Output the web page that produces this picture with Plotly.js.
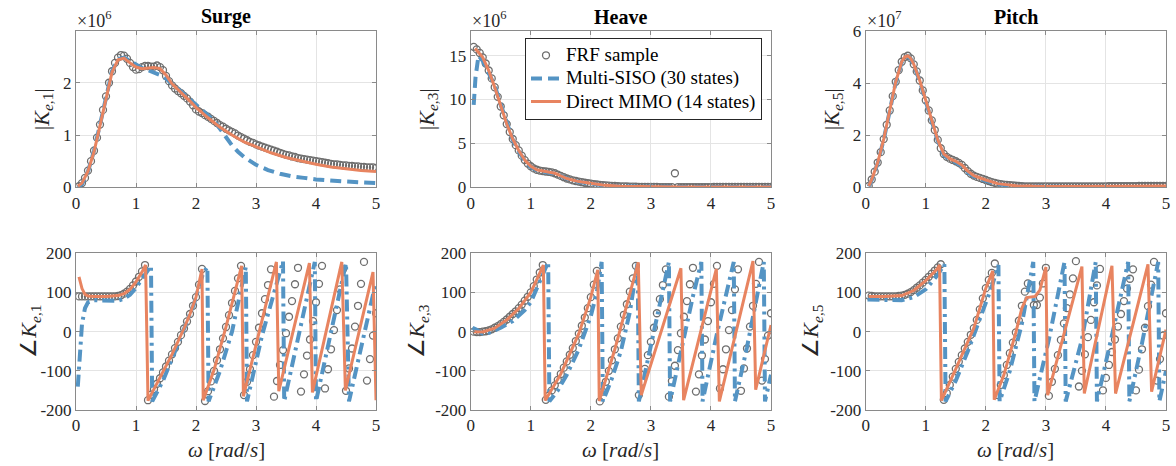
<!DOCTYPE html>
<html><head><meta charset="utf-8">
<script src="https://cdn.plot.ly/plotly-3.0.1.min.js"></script>
<style>body{margin:0;background:#fff}#chart{width:1176px;height:466px}</style>
</head><body><div id="chart"></div>
<script>
// FRF sample frequencies (rad/s)
const omega = [0.05,0.10,0.15,0.20,0.25,0.30,0.35,0.40,0.45,0.50,
 0.55,0.60,0.65,0.70,0.75,0.80,0.85,0.90,0.95,1.00,
 1.05,1.10,1.15,1.20,1.25,1.30,1.35,1.40,1.45,1.50,
 1.55,1.60,1.65,1.70,1.75,1.80,1.85,1.90,1.95,2.00,
 2.05,2.10,2.15,2.20,2.25,2.30,2.35,2.40,2.45,2.50,
 2.55,2.60,2.65,2.70,2.75,2.80,2.85,2.90,2.95,3.00,
 3.05,3.10,3.15,3.20,3.25,3.30,3.35,3.40,3.45,3.50,
 3.55,3.60,3.65,3.70,3.75,3.80,3.85,3.90,3.95,4.00,
 4.05,4.10,4.15,4.20,4.25,4.30,4.35,4.40,4.45,4.50,
 4.55,4.60,4.65,4.70,4.75,4.80,4.85,4.90,4.95,5.00];

// ---- FRF samples: magnitude (surge, heave x1e6; pitch x1e7) ----
const surgeMagFRF = [0.02,0.08,0.18,0.32,0.50,0.70,0.95,1.20,1.48,1.74,
 2.00,2.22,2.38,2.48,2.53,2.52,2.46,2.38,2.30,2.25,
 2.26,2.30,2.32,2.32,2.31,2.31,2.33,2.30,2.24,2.13,
 2.03,1.95,1.89,1.84,1.80,1.75,1.70,1.64,1.57,1.49,
 1.45,1.42,1.38,1.35,1.31,1.27,1.23,1.19,1.16,1.12,
 1.09,1.06,1.03,0.99,0.96,0.93,0.90,0.87,0.85,0.82,
 0.80,0.78,0.76,0.74,0.72,0.70,0.68,0.66,0.64,0.62,
 0.61,0.59,0.58,0.56,0.55,0.54,0.53,0.52,0.51,0.50,
 0.49,0.48,0.47,0.46,0.45,0.44,0.44,0.43,0.42,0.42,
 0.41,0.41,0.40,0.40,0.39,0.39,0.38,0.38,0.38,0.37];
const heaveMagFRF = [16.0,15.7,15.3,14.8,14.1,13.3,12.4,11.4,10.3,9.2,
 8.2,7.2,6.3,5.5,4.8,4.2,3.6,3.1,2.7,2.4,
 2.15,2.0,1.9,1.85,1.8,1.75,1.7,1.6,1.45,1.3,
 1.15,1.0,0.9,0.8,0.72,0.65,0.58,0.52,0.46,0.41,
 0.36,0.32,0.28,0.25,0.22,0.19,0.17,0.15,0.13,0.11,
 0.10,0.09,0.08,0.07,0.06,0.05,0.05,0.04,0.04,0.04,
 0.04,0.04,0.03,0.03,0.03,0.03,0.03,1.6,0.03,0.03,
 0.03,0.03,0.03,0.03,0.03,0.03,0.03,0.03,0.03,0.03,
 0.04,0.04,0.04,0.04,0.04,0.04,0.04,0.04,0.04,0.04,
 0.04,0.04,0.04,0.04,0.04,0.04,0.04,0.04,0.04,0.04];
const pitchMagFRF = [0.05,0.3,0.6,0.95,1.35,1.85,2.4,2.95,3.5,4.05,
 4.5,4.82,5.0,5.05,4.95,4.72,4.45,4.1,3.72,3.34,
 2.95,2.57,2.2,1.82,1.5,1.28,1.17,1.1,1.05,1.0,
 0.94,0.86,0.74,0.62,0.52,0.45,0.4,0.36,0.32,0.28,
 0.24,0.2,0.17,0.14,0.12,0.1,0.09,0.08,0.07,0.06,
 0.05,0.04,0.03,0.03,0.03,0.03,0.03,0.03,0.03,0.03,
 0.03,0.03,0.03,0.03,0.03,0.03,0.03,0.03,0.03,0.03,
 0.03,0.03,0.03,0.03,0.03,0.03,0.03,0.03,0.03,0.03,
 0.04,0.04,0.04,0.04,0.04,0.04,0.04,0.04,0.04,0.04,
 0.05,0.05,0.05,0.05,0.05,0.05,0.05,0.05,0.05,0.05];

// ---- FRF samples: phase (deg) ----
const surgePhFRF = [90,90,90,90,90,90,90,90,90,90,
 90,90,90,91,93,97,102,109,118,128,
 140,154,170,-175,-161,-147,-133,-119,-104,-89,
 -74,-58,-42,-26,-9,8,26,45,66,88,
 120,160,-177,-152,-127,-100,-73,-45,-17,12,
 42,73,104,136,168,-162,-128,-96,-60,-26,
 10,47,83,119,159,-166,-126,-85,-47,-4,
 38,78,121,163,-153,-109,-61,-20,27,75,
 122,168,-145,-96,-45,4,55,108,159,-151,
 -94,-43,13,66,122,178,-125,-70,-10,47];
const heavePhFRF = [0,-1,-1,0,1,3,6,10,14,19,
 25,31,38,45,52,60,69,79,89,100,
 116,133,151,170,-174,-163,-150,-137,-123,-108,
 -92,-76,-59,-42,-24,-5,15,36,60,88,
 120,155,-178,-153,-128,-100,-73,-45,-17,13,
 43,70,102,136,168,-162,-128,-95,-60,-26,
 10,47,83,119,159,-166,-126,-87,-47,-4,
 38,78,121,163,-153,-109,-61,-20,27,75,
 122,168,-145,-96,-45,4,55,108,159,-151,
 -94,-43,13,66,122,178,-125,-70,-10,47];
const pitchPhFRF = [92,91,90,90,90,90,90,90,90,90,
 91,92,94,97,101,106,112,118,125,132,
 140,148,156,164,172,-174,-157,-136,-115,-95,
 -77,-60,-43,-26,-8,9,30,57,85,111,
 132,150,174,-162,-136,-111,-85,-55,-28,-2,
 28,66,102,123,112,68,68,87,123,163,
 -164,-128,-95,-60,-21,21,60,95,136,180,
 -140,-100,-58,-14,30,75,118,160,-150,-118,
 -85,-52,-20,13,45,78,110,135,159,-150,
 -97,-45,10,65,120,178,-125,-70,-10,47];

// ---- Multi-SISO (30 states) & Direct MIMO (14 states) fits ----
const surgeMagSisoW = [0.03,0.1,0.2,0.3,0.4,0.5,0.6,0.7,0.8,0.9,1.0,1.1,1.2,1.3,1.4,1.5,1.6,1.7,1.8,1.9,2.0,2.1,2.2,2.3,2.4,2.5,2.6,2.7,2.8,3.0,3.2,3.4,3.6,3.8,4.0,4.5,5.0];
const surgeMagSiso = [0.0,0.06,0.3,0.7,1.2,1.75,2.22,2.45,2.48,2.42,2.35,2.28,2.24,2.2,2.15,2.08,1.98,1.88,1.78,1.68,1.58,1.49,1.40,1.28,1.12,0.95,0.80,0.68,0.58,0.43,0.33,0.26,0.21,0.18,0.15,0.11,0.08];
const surgeMagMimoW = [0.03,0.1,0.2,0.3,0.4,0.5,0.6,0.7,0.8,0.9,1.0,1.1,1.2,1.3,1.4,1.5,1.6,1.7,1.8,1.9,2.0,2.2,2.4,2.6,2.8,3.0,3.25,3.5,3.75,4.0,4.25,4.5,4.75,5.0];
const surgeMagMimo = [0.02,0.08,0.31,0.68,1.18,1.72,2.2,2.44,2.47,2.38,2.30,2.27,2.28,2.29,2.27,2.15,1.98,1.87,1.77,1.65,1.53,1.33,1.15,1.0,0.87,0.77,0.66,0.57,0.5,0.44,0.39,0.35,0.32,0.30];

const heaveMagSisoW = [0.05,0.08,0.13,0.2,0.3,0.4,0.5,0.6,0.7,0.8,0.9,1.0,1.1,1.2,1.3,1.4,1.5,1.6,1.8,2.0,2.2,2.5,3.0,3.5,4.0,4.5,5.0];
const heaveMagSiso = [9.4,12.5,15.0,14.4,13.0,11.6,9.4,7.3,5.4,4.1,3.0,2.3,1.95,1.8,1.7,1.55,1.3,1.0,0.62,0.38,0.22,0.09,0.03,0.02,0.02,0.02,0.02];
const heaveMagMimoW = [0.07,0.1,0.2,0.3,0.4,0.5,0.6,0.7,0.8,0.9,1.0,1.1,1.2,1.3,1.4,1.5,1.6,1.8,2.0,2.2,2.5,3.0,3.5,4.0,4.5,5.0];
const heaveMagMimo = [15.8,15.6,14.8,13.3,11.4,9.2,7.2,5.5,4.2,3.1,2.4,2.0,1.85,1.75,1.6,1.3,1.0,0.65,0.41,0.25,0.11,0.04,0.03,0.03,0.03,0.03];

const pitchMagW = [0.05,0.1,0.2,0.3,0.4,0.5,0.6,0.65,0.7,0.75,0.8,0.9,1.0,1.1,1.2,1.3,1.4,1.5,1.6,1.7,1.8,2.0,2.2,2.5,3.0,3.5,4.0,4.5,5.0];
const pitchMagSiso = [0.03,0.28,0.93,1.83,2.93,4.03,4.8,4.98,5.03,4.93,4.7,4.08,3.3,2.52,1.78,1.24,1.06,0.96,0.82,0.58,0.42,0.25,0.12,0.04,0.01,0.01,0.01,0.01,0.01];
const pitchMagMimo = [0.05,0.3,0.95,1.85,2.95,4.05,4.82,5.0,5.05,4.95,4.72,4.1,3.34,2.57,1.82,1.28,1.1,1.0,0.86,0.62,0.45,0.28,0.14,0.06,0.03,0.03,0.03,0.04,0.05];

const surgePhSisoW = [0.03,0.06,0.1,0.15,0.2,0.3,0.5,0.7,0.8,0.9,1.0,1.1,1.2,1.25,1.27,1.45,1.62,1.79,1.96,2.12,2.19,2.21,2.4,2.6,2.83,2.85,3.1,3.45,3.47,3.98,4.0,4.5,4.55,5.0];
const surgePhSiso = [-140,-60,20,60,75,80,80,79,84,94,112,135,160,168,-178,-125,-62,0,68,150,165,-178,-100,0,165,-178,-10,180,-178,178,-178,175,-178,128];
const surgePhMimoW = [0.05,0.1,0.15,0.2,0.3,0.5,0.7,0.8,0.9,1.0,1.1,1.16,1.2,1.4,1.6,1.8,1.9,2.0,2.1,2.12,2.3,2.5,2.7,2.76,2.79,3.34,3.38,3.89,3.94,4.43,4.49,4.95,5.0];
const surgePhMimo = [140,110,95,91,90,90,92,97,108,127,152,170,-176,-118,-58,8,45,88,160,-175,-98,12,137,168,-165,178,-152,175,-155,178,-150,152,-175];

const heavePhSisoW = [0.03,0.1,0.2,0.3,0.5,0.7,0.9,1.0,1.1,1.2,1.29,1.31,1.45,1.6,1.8,2.0,2.1,2.18,2.2,2.35,2.5,2.65,2.78,2.8,3.0,3.15,3.3,3.32,3.5,3.7,3.84,3.86,4.1,4.38,4.4,4.6,4.88,4.9,5.0];
const heavePhSiso = [10,5,-5,-3,10,27,55,75,110,145,178,-178,-150,-110,-45,40,100,178,-178,-120,-50,50,178,-178,-40,70,178,-178,-50,90,178,-178,-5,178,-178,-40,178,-178,-110];
const heavePhMimoW = [0.05,0.2,0.4,0.6,0.8,1.0,1.1,1.21,1.24,1.5,1.8,2.0,2.116,2.14,2.4,2.6,2.79,2.84,3.5,3.545,4.09,4.14,4.7,4.745,5.0];
const heavePhMimo = [0,-1,9,30,59,100,133,170,-176,-108,-5,88,158,-177,-45,70,177,-162,162,-175,160,-178,180,-148,17];

const pitchPhSisoW = [0.03,0.3,0.6,0.8,1.0,1.2,1.31,1.33,1.5,1.7,1.9,2.1,2.21,2.23,2.4,2.6,2.79,2.81,3.05,3.31,3.33,3.6,3.83,3.85,4.1,4.37,4.39,4.6,4.87,4.89,5.0];
const pitchPhSiso = [82,82,80,88,108,145,172,-178,-125,-50,30,115,170,-178,-100,20,178,-178,-20,178,-178,-20,178,-178,-10,178,-178,-30,178,-178,-100];
const pitchPhMimoW = [0.05,0.3,0.6,0.8,1.0,1.2,1.23,1.26,1.5,1.8,2.0,2.116,2.14,2.3,2.5,2.6,2.68,2.82,2.9,3.0,3.03,3.6,3.64,4.1,4.16,4.7,4.76,5.0];
const pitchPhMimo = [90,90,92,105,130,162,170,-176,-95,9,111,155,-174,-111,-2,60,87,90,106,165,-162,166,-158,168,-158,172,-153,5];

// ---- labels ----
const dofTitles = ['Surge','Heave','Pitch'];
const magLabels = ['|<i>K</i><sub><i>e</i>,1</sub>|','|<i>K</i><sub><i>e</i>,3</sub>|','|<i>K</i><sub><i>e</i>,5</sub>|'];
const phLabels = ['∠<i>K</i><sub><i>e</i>,1</sub>','∠<i>K</i><sub><i>e</i>,3</sub>','∠<i>K</i><sub><i>e</i>,5</sub>'];
const expLabels = ['×10<sup>6</sup>','×10<sup>6</sup>','×10<sup>7</sup>'];
const seriesNames = ['FRF sample','Multi-SISO (30 states)','Direct MIMO (14 states)'];
const xTicks = [0,1,2,3,4,5];
const magTicks = [[0,1,2],[0,5,10,15],[0,2,4,6]];
const magRanges = [[0,2.99],[0,17.8],[0,6]];
const phTicks = [-200,-100,0,100,200];

// ---- style ----
const FONT = 'Liberation Serif';
const BLUE = 'rgb(84,148,196)';
const ORANGE = 'rgb(232,132,96)';
const GRAY = 'rgb(110,110,110)';
const W = 1176, H = 466;
const colPx = [[76,376],[470.7,771],[865.7,1166]];
const topRowPx = [31,187.3], botRowPx = [253.3,410];
const px2x = p => p / W, py2y = p => 1 - p / H;
const legendName = s => '<span style="font-size:19px">' + s + '</span>';

const traces = [];
function addPanel(idx, fx, fy, sx, sy, mx, my, isMag, legend) {
  const xa = idx === 1 ? 'x' : 'x' + idx, ya = idx === 1 ? 'y' : 'y' + idx;
  traces.push({type:'scatter', mode:'markers', x:fx, y:fy, xaxis:xa, yaxis:ya,
    name:legendName(seriesNames[0]), showlegend:legend, legendgroup:'a',
    marker:{symbol:'circle-open', size:7, color:GRAY, line:{width:1.3, color:GRAY}}});
  traces.push({type:'scatter', mode:'lines', x:sx, y:sy, xaxis:xa, yaxis:ya,
    name:legendName(seriesNames[1]), showlegend:legend, legendgroup:'b',
    line:{color:BLUE, width:4, dash: isMag ? '11px,6px' : '12px,5px,3px,5px'}});
  traces.push({type:'scatter', mode:'lines', x:mx, y:my, xaxis:xa, yaxis:ya,
    name:legendName(seriesNames[2]), showlegend:legend, legendgroup:'c',
    line:{color:ORANGE, width:3}});
}
addPanel(1, omega, surgeMagFRF, surgeMagSisoW, surgeMagSiso, surgeMagMimoW, surgeMagMimo, true, false);
addPanel(2, omega, heaveMagFRF, heaveMagSisoW, heaveMagSiso, heaveMagMimoW, heaveMagMimo, true, true);
addPanel(3, omega, pitchMagFRF, pitchMagW, pitchMagSiso, pitchMagW, pitchMagMimo, true, false);
addPanel(4, omega, surgePhFRF, surgePhSisoW, surgePhSiso, surgePhMimoW, surgePhMimo, false, false);
addPanel(5, omega, heavePhFRF, heavePhSisoW, heavePhSiso, heavePhMimoW, heavePhMimo, false, false);
addPanel(6, omega, pitchPhFRF, pitchPhSisoW, pitchPhSiso, pitchPhMimoW, pitchPhMimo, false, false);

const layout = {
  width: W, height: H, margin:{l:0,r:0,t:0,b:0},
  paper_bgcolor:'#fff', plot_bgcolor:'#fff',
  font:{family:FONT, size:17, color:'#262626'},
  showlegend:true,
  legend:{x:px2x(525), y:py2y(37.7), xanchor:'left', yanchor:'top',
    bgcolor:'#fff', bordercolor:'#262626', borderwidth:1,
    font:{family:FONT, size:15.5, color:'#000'}, tracegroupgap:0, itemwidth:30},
  annotations: []
};
const axBase = {showgrid:true, gridcolor:'#e4e4e4', gridwidth:1, zeroline:false,
  showline:true, linecolor:'#8a8a8a', linewidth:1, mirror:'ticks',
  ticks:'inside', ticklen:4, tickcolor:'#8a8a8a',
  tickfont:{family:FONT, size:17, color:'#262626'}, fixedrange:true};
for (let i = 0; i < 6; i++) {
  const c = i % 3, top = i < 3;
  const n = i + 1;
  const xk = n === 1 ? 'xaxis' : 'xaxis' + n, yk = n === 1 ? 'yaxis' : 'yaxis' + n;
  const rowPx = top ? topRowPx : botRowPx;
  layout[xk] = Object.assign({}, axBase, {
    domain:[px2x(colPx[c][0]), px2x(colPx[c][1])], anchor: n === 1 ? 'y' : 'y' + n,
    range:[0,5], tickvals:xTicks, ticktext:xTicks.map(String)});
  layout[yk] = Object.assign({}, axBase, {
    domain:[py2y(rowPx[1]), py2y(rowPx[0])], anchor: n === 1 ? 'x' : 'x' + n,
    range: top ? magRanges[c] : [-200,200],
    tickvals: top ? magTicks[c] : phTicks,
    ticktext: (top ? magTicks[c] : phTicks).map(String)});
  const cx = px2x((colPx[c][0] + colPx[c][1]) / 2);
  if (top) {
    layout.annotations.push({xref:'paper', yref:'paper', x:cx, y:py2y(17), xanchor:'center', yanchor:'middle',
      text:'<b>' + dofTitles[c] + '</b>', showarrow:false, font:{family:FONT, size:20, color:'#000'}});
    layout.annotations.push({xref:'paper', yref:'paper', x:px2x(colPx[c][0] - 1), y:py2y(19), xanchor:'left', yanchor:'middle',
      text:expLabels[c], showarrow:false, font:{family:FONT, size:18, color:'#262626'}});
  } else {
    layout.annotations.push({xref:'paper', yref:'paper', x:cx, y:py2y(450), xanchor:'center', yanchor:'middle',
      text:'<i>ω</i> [<i>rad</i>/<i>s</i>]', showarrow:false, font:{family:FONT, size:21, color:'#262626'}});
  }
  const ylx = top ? [43, 428, 833][c] : [30, 418, 812][c];
  layout.annotations.push({xref:'paper', yref:'paper', x:px2x(ylx), y:py2y((rowPx[0] + rowPx[1]) / 2),
    xanchor:'center', yanchor:'middle', textangle:-90,
    text: top ? magLabels[c] : phLabels[c], showarrow:false, font:{family:FONT, size:22, color:'#262626'}});
}
Plotly.newPlot('chart', traces, layout, {displayModeBar:false});
</script></body></html>
